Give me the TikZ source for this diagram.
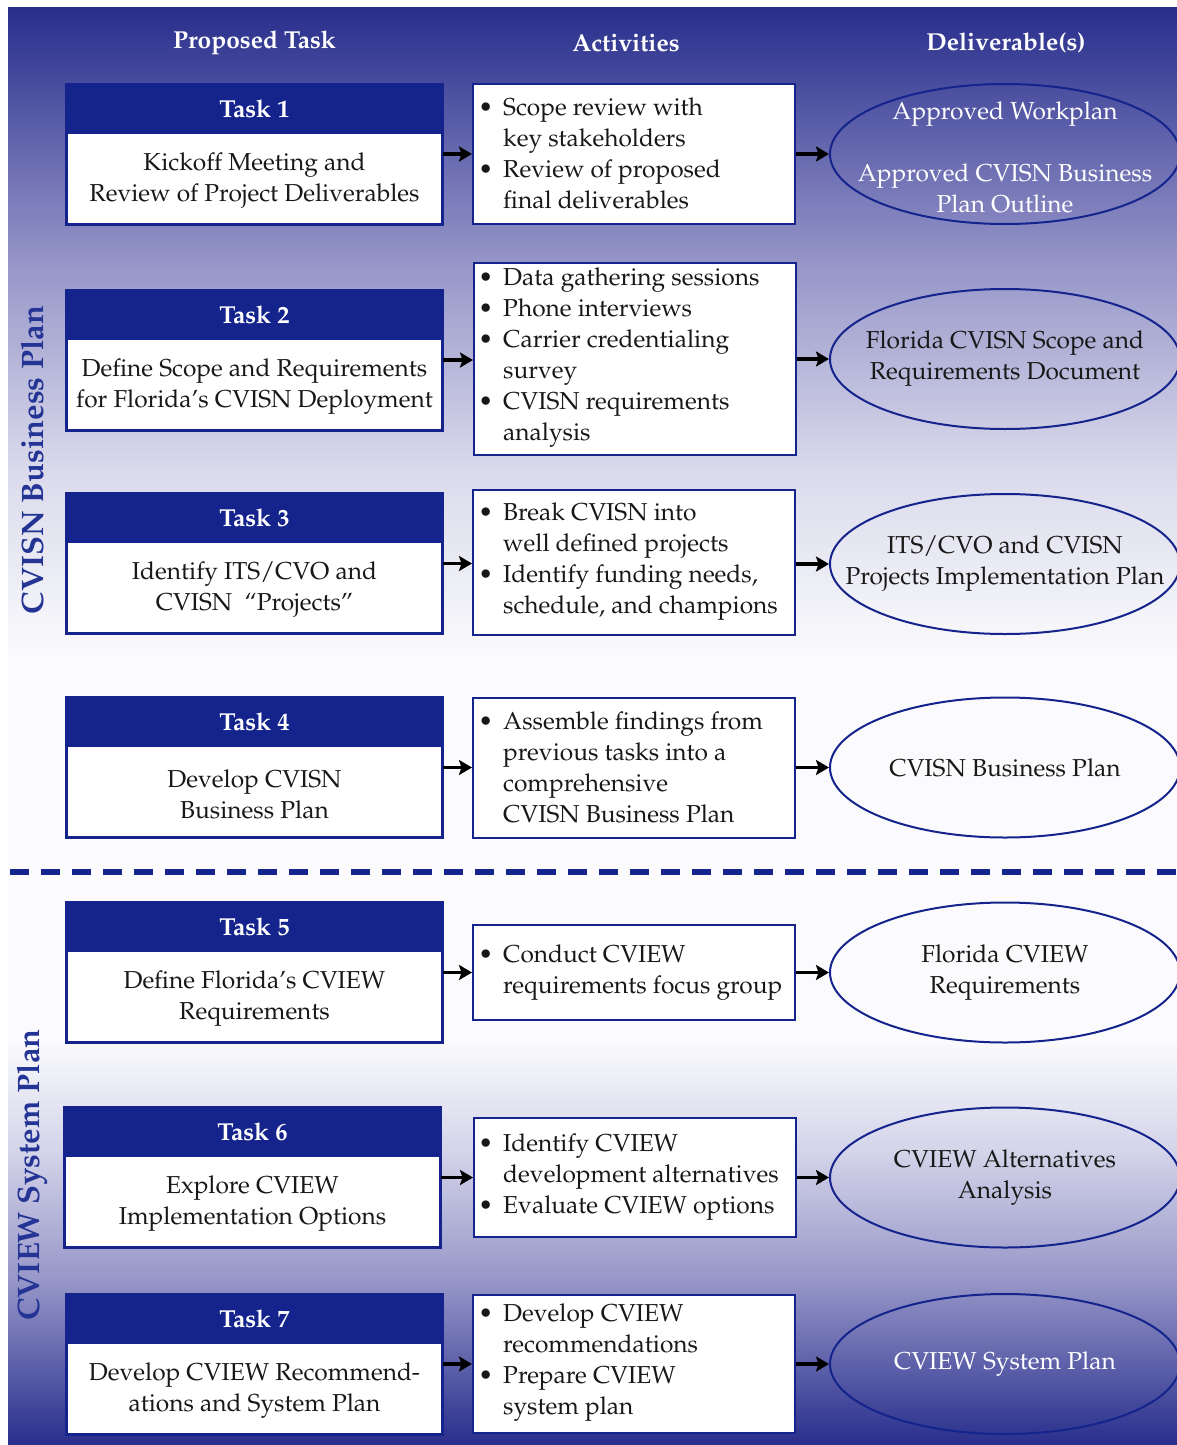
\documentclass[tikz,border=0pt]{standalone}
\usepackage[T1]{fontenc}
\usepackage{mathpazo}
\usetikzlibrary{shapes.geometric,arrows.meta,calc}
\definecolor{navy}{RGB}{20,36,140}
\definecolor{sidecol}{RGB}{36,52,148}
\definecolor{txt}{RGB}{24,24,24}
\definecolor{bgA}{RGB}{40,46,140}
\definecolor{bgB}{RGB}{145,145,198}
\definecolor{bgC}{RGB}{218,218,236}
\definecolor{bgD}{RGB}{251,251,253}
\definecolor{bgE}{RGB}{150,150,200}
\definecolor{bgF}{RGB}{212,212,234}
\tikzset{
  taskbox/.style={draw=navy, line width=2pt, fill=white, minimum width=375pt, minimum height=139pt, inner sep=0pt},
  actbox/.style={draw=navy, line width=2pt, fill=white, minimum width=322pt, inner sep=0pt},
  deliv/.style={ellipse, draw=navy, line width=2pt, minimum width=350pt, minimum height=140pt, inner sep=0pt},
  bodyfont/.style={font=\fontsize{24.5}{31}\selectfont},
  colhead/.style={font=\fontsize{24.5}{31}\selectfont\bfseries, text=white, inner sep=0pt},
  tasklbl/.style={font=\fontsize{24.5}{31}\selectfont\bfseries, text=white, inner sep=0pt},
  tasktxt/.style={bodyfont, text=txt, align=center, inner sep=0pt},
  acttxt/.style={bodyfont, text=txt, align=left, anchor=west, inner sep=0pt},
  deltxt/.style={bodyfont, align=center, inner sep=0pt},
  arr/.style={line width=3.5pt, -{Stealth[length=13pt,width=15pt,inset=2.5pt]}},
  sidelbl/.style={rotate=90, font=\fontsize{31}{36}\selectfont\bfseries, text=sidecol, inner sep=0pt},
  sepline/.style={draw=navy, line width=6pt, dash pattern=on 19pt off 12pt},
}
\newcommand{\bl}{\makebox[0pt][r]{\textbullet\hspace{10pt}}}
\newcommand{\mktask}[5]{%
  \node[taskbox] (#1) at (#2,#3) {};
  \fill[navy] (#1.north west) rectangle ($(#1.north east)+(0,50)$);
  \draw[navy, line width=2pt] (#1.north west) rectangle (#1.south east);
  \node[tasklbl] (#1h) at ($(#1.north)+(0,25)$) {Task #4};
  \node[tasktxt] (#1b) at ($(#1.south)+(0,-44)$) {#5};
}
\begin{document}
\begin{tikzpicture}[x=1pt, y=-1pt]
\useasboundingbox (0,0) rectangle (1177,1445);
\clip (0,0) rectangle (1177,1445);
% background
\fill[white] (0,0) rectangle (1177,1445);
\shade[top color=bgA, bottom color=bgB] (8,8) rectangle (1177,250.5);
\shade[top color=bgB, bottom color=bgC] (8,250) rectangle (1177,470.5);
\shade[top color=bgC, bottom color=bgD] (8,470) rectangle (1177,660.5);
\fill[bgD] (8,660) rectangle (1177,1040.5);
\shade[top color=bgD, bottom color=bgF] (8,1040) rectangle (1177,1150.5);
\shade[top color=bgF, bottom color=bgE] (8,1150) rectangle (1177,1280.5);
\shade[top color=bgE, bottom color=bgA] (8,1280) rectangle (1177,1445);

% column headers
\node[colhead] (hTask) at (254.5,43) {Proposed Task};
\node[colhead] (hAct) at (626,43) {Activities};
\node[colhead] (hDel) at (1006,43) {Deliverable(s)};

% side labels
\node[sidelbl] (sideA) at (32,460) {CVISN Business Plan};
\node[sidelbl] (sideB) at (32,1175) {CVIEW System Plan};

% separator
\coordinate (sepL) at (10,872);
\coordinate (sepR) at (1177,872);
\draw[sepline] (sepL) -- (sepR);

% tasks
\mktask{t1}{254.5}{154}{1}{Kickoff Meeting and\\Review of Project Deliverables}
\mktask{t2}{254.5}{360}{2}{Define Scope and Requirements\\for Florida's CVISN Deployment}
\mktask{t3}{254.5}{563.5}{3}{Identify ITS/CVO and\\CVISN\ \ ``Projects''}
\mktask{t4}{254.5}{767.5}{4}{Develop CVISN\\Business Plan}
\mktask{t5}{254.5}{972.5}{5}{Define Florida's CVIEW\\Requirements}
\mktask{t6}{252.5}{1177.5}{6}{Explore CVIEW\\Implementation Options}
\mktask{t7}{254.5}{1364}{7}{Develop CVIEW Recommend-\\ations and System Plan}

% activities
\node[actbox, minimum height=140pt] (a1) at (634,154) {};
\node[actbox, minimum height=192pt] (a2) at (635,359) {};
\node[actbox, minimum height=145pt] (a3) at (634,562.5) {};
\node[actbox, minimum height=140pt] (a4) at (634,768) {};
\node[actbox, minimum height=95pt] (a5) at (634,972.5) {};
\node[actbox, minimum height=119pt] (a6) at (635,1177.5) {};
\node[actbox, minimum height=138pt] (a7) at (634,1364) {};

\node[acttxt] (a1t) at (503,153) {\bl Scope review with\\key stakeholders\\\bl Review of proposed\\final deliverables};
\node[acttxt] (a2t) at (503,358) {\bl Data gathering sessions\\\bl Phone interviews\\\bl Carrier credentialing\\survey\\\bl CVISN requirements\\analysis};
\node[acttxt] (a3t) at (503,561.5) {\bl Break CVISN into\\well defined projects\\\bl Identify funding needs,\\schedule, and champions};
\node[acttxt] (a4t) at (503,767) {\bl Assemble findings from\\previous tasks into a\\comprehensive\\CVISN Business Plan};
\node[acttxt] (a5t) at (503,972.5) {\bl Conduct CVIEW\\requirements focus group};
\node[acttxt] (a6t) at (503,1177) {\bl Identify CVIEW\\development alternatives\\\bl Evaluate CVIEW options};
\node[acttxt] (a7t) at (503,1363) {\bl Develop CVIEW\\recommendations\\\bl Prepare CVIEW\\system plan};

% deliverables
\node[deliv] (e1) at (1005,154) {};
\node[deliv] (e2) at (1005,359) {};
\node[deliv] (e3) at (1005,564) {};
\node[deliv] (e4) at (1005,767.5) {};
\node[deliv] (e5) at (1005,972.5) {};
\node[deliv] (e6) at (1005,1177.5) {};
\node[deliv] (e7) at (1005,1364) {};

\node[deltxt, text=white] (e1t) at (1005,157) {Approved Workplan\\[31pt]Approved CVISN Business\\Plan Outline};
\node[deltxt, text=txt] (e2t) at (e2) {Florida CVISN Scope and\\Requirements Document};
\node[deltxt, text=txt] (e3t) at (e3) {ITS/CVO and CVISN\\Projects Implementation Plan};
\node[deltxt, text=txt] (e4t) at (e4) {CVISN Business Plan};
\node[deltxt, text=txt] (e5t) at (e5) {Florida CVIEW\\Requirements};
\node[deltxt, text=txt] (e6t) at (e6) {CVIEW Alternatives\\Analysis};
\node[deltxt, text=white] (e7t) at (e7) {CVIEW System Plan};

% arrows
\foreach \i in {1,...,7}{
  \draw[arr] (t\i.east) -- (t\i.east -| a\i.west);
  \draw[arr] (a\i.east |- e\i.west) -- (e\i.west);
}
\end{tikzpicture}
\end{document}
